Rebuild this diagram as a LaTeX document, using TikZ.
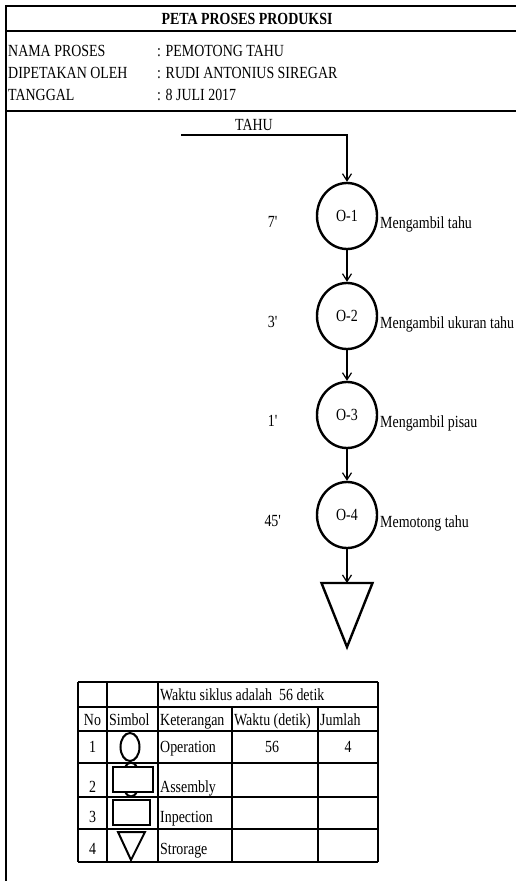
\documentclass[tikz,border=0pt]{standalone}
\usepackage{fontspec}
\setmainfont[FakeStretch=0.82]{Liberation Serif}
\usetikzlibrary{arrows.meta,calc,shapes.geometric}

\begin{document}
\begin{tikzpicture}[x=1pt,y=-1pt,font=\fontsize{17}{19}\selectfont,
    every node/.style={inner sep=0pt},
    frameline/.style={line width=2.4pt},
    gridline/.style={line width=1.6pt},
    symline/.style={line width=2pt},
    opcircle/.style={draw,ellipse,line width=2.4pt,minimum width=60pt,minimum height=66pt},
    flow/.style={line width=1.2pt,-{Straight Barb[length=7pt,width=9pt]}},
    celltext/.style={anchor=base west},
    cellmid/.style={anchor=base}]
  \useasboundingbox (0,0) rectangle (516,881);
  % frame and header
  \draw[frameline] (516,6) -- (6,6) -- (6,881);
  \draw[frameline] (6,31) -- (516,31);
  \draw[frameline] (6,111) -- (516,111);
  \node[cellmid,font=\fontsize{17}{19}\selectfont\bfseries] (title) at (247,24) {PETA PROSES PRODUKSI};
  \node[celltext] (namalbl) at (8,56) {NAMA PROSES};
  \node[celltext] (nama) at (157,56) {: PEMOTONG TAHU};
  \node[celltext] (olehlbl) at (8,78) {DIPETAKAN OLEH};
  \node[celltext] (oleh) at (157,78) {: RUDI ANTONIUS SIREGAR};
  \node[celltext] (tgllbl) at (8,100) {TANGGAL};
  \node[celltext] (tgl) at (157,100) {: 8 JULI 2017};
  % process chart
  \node[cellmid] (bahan) at (254,130) {TAHU};
  \coordinate (start) at (181,135);
  \node[opcircle] (o1) at (347,216) {O-1};
  \node[opcircle] (o2) at (347,316) {O-2};
  \node[opcircle] (o3) at (347,415) {O-3};
  \node[opcircle] (o4) at (347,515) {O-4};
  \coordinate (store) at (347,583);
  \draw[frameline,line join=miter] ($(store)+(-25.5,0)$) -- ($(store)+(25.5,0)$) -- (347,647) -- cycle;
  \draw[flow] (start) -| (o1.north);
  \draw[flow] (o1) -- (o2);
  \draw[flow] (o2) -- (o3);
  \draw[flow] (o3) -- (o4);
  \draw[flow] (o4) -- (store);
  \node[cellmid] (t1) at ($(o1.center)+(-74,11)$) {7\textquotesingle};
  \node[cellmid] (t2) at ($(o2.center)+(-74,11)$) {3\textquotesingle};
  \node[cellmid] (t3) at ($(o3.center)+(-74,11)$) {1\textquotesingle};
  \node[cellmid] (t4) at ($(o4.center)+(-74,11)$) {45\textquotesingle};
  \node[celltext] (k1) at ($(o1.center)+(33,12)$) {Mengambil tahu};
  \node[celltext] (k2) at ($(o2.center)+(33,12)$) {Mengambil ukuran tahu};
  \node[celltext] (k3) at ($(o3.center)+(33,12)$) {Mengambil pisau};
  \node[celltext] (k4) at ($(o4.center)+(33,12)$) {Memotong tahu};
  % summary table
  \foreach \y in {682,707,731,763,797,829,862}
    \draw[gridline] (78,\y) -- (378,\y);
  \foreach \x in {78,107,158,378}
    \draw[gridline] (\x,682) -- (\x,862);
  \foreach \x in {232,318}
    \draw[gridline] (\x,707) -- (\x,862);
  \node[celltext] (siklus) at (160,700) {Waktu siklus adalah\ \ 56 detik};
  \node[cellmid] (hno) at (92.5,725) {No};
  \node[celltext] (hsim) at (109,725) {Simbol};
  \node[celltext] (hket) at (160,725) {Keterangan};
  \node[celltext] (hwak) at (234,725) {Waktu (detik)};
  \node[celltext] (hjum) at (320,725) {Jumlah};
  \node[cellmid] (n1) at (92.5,752) {1};
  \node[cellmid] (n2) at (92.5,792) {2};
  \node[cellmid] (n3) at (92.5,822) {3};
  \node[cellmid] (n4) at (92.5,854) {4};
  \node[celltext] (ket1) at (160,752) {Operation};
  \node[celltext] (ket2) at (160,792) {Assembly};
  \node[celltext] (ket3) at (160,822) {Inpection};
  \node[celltext] (ket4) at (160,854) {Strorage};
  \node[cellmid] (wak1) at (272,752) {56};
  \node[cellmid] (jum1) at (348,752) {4};
  % symbols
  \draw[symline] (130,747) ellipse [x radius=9.5,y radius=14];
  \draw[symline] (131,779.5) ellipse [x radius=8.5,y radius=17];
  \draw[symline,fill=white] (113,767) rectangle (153,792);
  \draw[symline] (113,800) rectangle (150,825);
  \draw[symline,line join=miter] (118,832) -- (145,832) -- (131,860) -- cycle;
\end{tikzpicture}
\end{document}
